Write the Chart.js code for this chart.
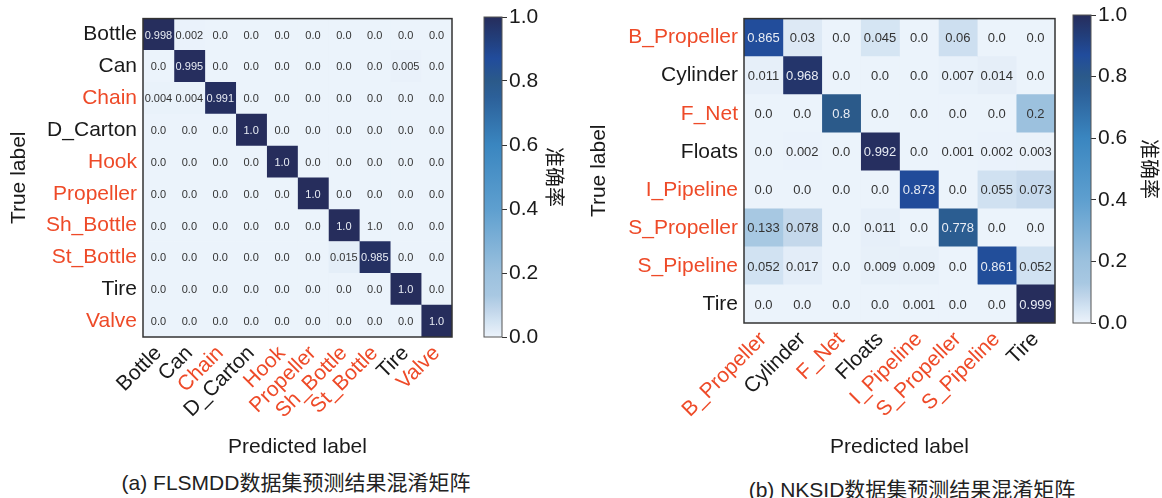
<!DOCTYPE html>
<html>
<head>
<meta charset="utf-8">
<script src="https://cdn.jsdelivr.net/npm/chart.js@4"></script>
<style>
    html, body { margin: 0; padding: 0; background: #fff; }
    body { width: 1162px; height: 498px; position: relative; overflow: hidden; }
    .box { position: absolute; }
    .caption {
        position: absolute; width: 500px; text-align: center;
        font: 21px 'Liberation Sans', 'Noto Sans CJK SC', sans-serif; color: #222;
        line-height: 24px;
    }
</style>
</head>
<body>
<div class="box" style="left:0;top:0;width:475px;height:464px"><canvas id="cmA"></canvas></div>
<div class="box" style="left:470px;top:0;width:101px;height:360px"><canvas id="cbA"></canvas></div>
<div class="box" style="left:580px;top:0;width:498px;height:464px"><canvas id="cmB"></canvas></div>
<div class="box" style="left:1060px;top:0;width:102px;height:360px"><canvas id="cbB"></canvas></div>
<div class="caption" style="left:46px;top:471px">(a) FLSMDD数据集预测结果混淆矩阵</div>
<div class="caption" style="left:662px;top:478px">(b) NKSID数据集预测结果混淆矩阵</div>

<script>
// ---- データ ----
const FLSMDD_LABELS = ['Bottle', 'Can', 'Chain', 'D_Carton', 'Hook', 'Propeller', 'Sh_Bottle', 'St_Bottle', 'Tire', 'Valve'];
const FLSMDD_RED = ['Chain', 'Hook', 'Propeller', 'Sh_Bottle', 'St_Bottle', 'Valve'];
const FLSMDD_MATRIX = [
    [0.998, 0.002, 0, 0, 0, 0, 0, 0, 0, 0],
    [0, 0.995, 0, 0, 0, 0, 0, 0, 0.005, 0],
    [0.004, 0.004, 0.991, 0, 0, 0, 0, 0, 0, 0],
    [0, 0, 0, 1.0, 0, 0, 0, 0, 0, 0],
    [0, 0, 0, 0, 1.0, 0, 0, 0, 0, 0],
    [0, 0, 0, 0, 0, 1.0, 0, 0, 0, 0],
    [0, 0, 0, 0, 0, 0, 1.0, 0, 0, 0],
    [0, 0, 0, 0, 0, 0, 0.015, 0.985, 0, 0],
    [0, 0, 0, 0, 0, 0, 0, 0, 1.0, 0],
    [0, 0, 0, 0, 0, 0, 0, 0, 0, 1.0]
];
// 元図のままのセル表示 (row,col -> text)
const FLSMDD_TEXT_FIX = { '6,7': '1.0' };

const NKSID_LABELS = ['B_Propeller', 'Cylinder', 'F_Net', 'Floats', 'I_Pipeline', 'S_Propeller', 'S_Pipeline', 'Tire'];
const NKSID_RED = ['B_Propeller', 'F_Net', 'I_Pipeline', 'S_Propeller', 'S_Pipeline'];
const NKSID_MATRIX = [
    [0.865, 0.03, 0, 0.045, 0, 0.06, 0, 0],
    [0.011, 0.968, 0, 0, 0, 0.007, 0.014, 0],
    [0, 0, 0.8, 0, 0, 0, 0, 0.2],
    [0, 0.002, 0, 0.992, 0, 0.001, 0.002, 0.003],
    [0, 0, 0, 0, 0.873, 0, 0.055, 0.073],
    [0.133, 0.078, 0, 0.011, 0, 0.778, 0, 0],
    [0.052, 0.017, 0, 0.009, 0.009, 0, 0.861, 0.052],
    [0, 0, 0, 0, 0.001, 0, 0, 0.999]
];

const COLORBAR_TICKS = [0, 0.2, 0.4, 0.6, 0.8, 1.0];

// ---- スタイル ----
const FONT = "'Liberation Sans', Arial, sans-serif";
const CJK = "'Noto Sans CJK SC', sans-serif";
const RED = '#ee4a28';
const BLACK = '#1a1a1a';
const CMAP = [
    [0.0, '#ebf3fb'], [0.02, '#e2ecf7'], [0.05, '#d2e3f2'], [0.08, '#c3d7eb'],
    [0.13, '#a8c8e2'], [0.2, '#9cc1de'], [0.4, '#5e9fcf'], [0.6, '#3a86c0'],
    [0.75, '#2c6099'], [0.8, '#2b5a8a'], [0.87, '#214c9c'], [0.93, '#223f7c'], [1.0, '#262d5c']
];

function hexToRgb(h) {
    const n = parseInt(h.slice(1), 16);
    return [(n >> 16) & 255, (n >> 8) & 255, n & 255];
}

function cmapColor(v) {
    for (let i = 1; i < CMAP.length; i++) {
        if (v <= CMAP[i][0]) {
            const [v0, c0] = CMAP[i - 1];
            const [v1, c1] = CMAP[i];
            const t = (v - v0) / (v1 - v0);
            const a = hexToRgb(c0), b = hexToRgb(c1);
            const m = a.map((x, k) => Math.round(x + (b[k] - x) * t));
            return `rgb(${m[0]},${m[1]},${m[2]})`;
        }
    }
    return CMAP[CMAP.length - 1][1];
}

function fmt(v) {
    if (v === 0) return '0.0';
    if (v === 1) return '1.0';
    return String(v);
}

const framePlugin = {
    id: 'frame',
    afterDatasetsDraw(chart, args, opts) {
        const { ctx, chartArea: a } = chart;
        ctx.save();
        ctx.strokeStyle = opts.color || '#333';
        ctx.lineWidth = opts.width || 1.5;
        ctx.strokeRect(a.left, a.top, a.right - a.left, a.bottom - a.top);
        ctx.restore();
    }
};

function renderMatrix(id, labels, redLabels, matrix, textFix, opt) {
    const n = labels.length;
    const datasets = labels.map((col, c) => ({
        label: col,
        data: labels.map(() => 1),
        backgroundColor: matrix.map(row => cmapColor(row[c])),
        borderWidth: 0,
        barPercentage: 1,
        categoryPercentage: 1
    }));

    const cellText = {
        id: 'cellText',
        afterDatasetsDraw(chart) {
            const { ctx } = chart;
            ctx.save();
            ctx.font = `${opt.cellFont}px ${FONT}`;
            ctx.textAlign = 'center';
            ctx.textBaseline = 'middle';
            chart.data.datasets.forEach((ds, c) => {
                chart.getDatasetMeta(c).data.forEach((bar, r) => {
                    const v = matrix[r][c];
                    const txt = textFix[r + ',' + c] || fmt(v);
                    ctx.fillStyle = v > 0.5 ? '#e8ecf4' : '#333';
                    ctx.fillText(txt, (bar.x + bar.base) / 2, bar.y + 1);
                });
            });
            ctx.restore();
        }
    };

    const tickColor = lbl => redLabels.includes(lbl) ? RED : BLACK;

    return new Chart(document.getElementById(id), {
        type: 'bar',
        data: { labels: labels, datasets: datasets },
        options: {
            indexAxis: 'y',
            responsive: true,
            maintainAspectRatio: false,
            animation: false,
            events: [],
            layout: { padding: opt.padding },
            plugins: {
                legend: { display: false },
                tooltip: { enabled: false },
                frame: { color: '#333', width: 1.5 }
            },
            scales: {
                x: {
                    type: 'linear',
                    stacked: true,
                    min: 0,
                    max: n,
                    grid: { display: false, drawTicks: false },
                    border: { display: false },
                    afterBuildTicks: axis => {
                        axis.ticks = labels.map((_, i) => ({ value: i + 0.5 }));
                    },
                    afterFit: s => { s.height = opt.xHeight; },
                    ticks: {
                        autoSkip: false,
                        minRotation: 45,
                        maxRotation: 45,
                        padding: 4,
                        font: { family: FONT, size: 21 },
                        color: c => tickColor(labels[c.index]),
                        callback: (v, i) => labels[i]
                    },
                    title: {
                        display: true,
                        text: 'Predicted label',
                        color: BLACK,
                        font: { family: FONT, size: 21 },
                        padding: { top: 0, bottom: 4 }
                    }
                },
                y: {
                    type: 'category',
                    stacked: true,
                    grid: { display: false, drawTicks: false },
                    border: { display: false },
                    afterFit: s => { s.width = opt.yWidth; },
                    ticks: {
                        padding: 6,
                        font: { family: FONT, size: 21 },
                        color: c => tickColor(labels[c.index])
                    },
                    title: {
                        display: true,
                        text: 'True label',
                        color: BLACK,
                        font: { family: FONT, size: 21 },
                        padding: { top: 7, bottom: 0 }
                    }
                }
            }
        },
        plugins: [cellText, framePlugin]
    });
}

function renderColorbar(id, opt) {
    return new Chart(document.getElementById(id), {
        type: 'bar',
        data: {
            labels: [''],
            datasets: [{
                data: [[COLORBAR_TICKS[0], COLORBAR_TICKS[COLORBAR_TICKS.length - 1]]],
                backgroundColor: ctx => {
                    const a = ctx.chart.chartArea;
                    if (!a) return '#ccc';
                    const g = ctx.chart.ctx.createLinearGradient(0, a.bottom, 0, a.top);
                    CMAP.forEach(([v, c]) => g.addColorStop(v, c));
                    return g;
                },
                borderWidth: 0,
                barPercentage: 1,
                categoryPercentage: 1
            }]
        },
        options: {
            responsive: true,
            maintainAspectRatio: false,
            animation: false,
            events: [],
            layout: { padding: opt.padding },
            plugins: {
                legend: { display: false },
                tooltip: { enabled: false },
                frame: { color: '#555', width: 1 }
            },
            scales: {
                x: { display: false },
                y: {
                    position: 'right',
                    min: 0,
                    max: 1,
                    afterBuildTicks: axis => {
                        axis.ticks = COLORBAR_TICKS.map(v => ({ value: v }));
                    },
                    afterFit: s => { s.width = opt.yWidth; },
                    grid: { drawOnChartArea: false, drawTicks: true, tickLength: 5, color: '#333' },
                    border: { display: false },
                    ticks: {
                        padding: 2,
                        color: BLACK,
                        font: { family: FONT, size: 21 },
                        callback: v => v.toFixed(1)
                    },
                    title: {
                        display: true,
                        text: '准确率',
                        color: BLACK,
                        font: { family: CJK, size: 20 },
                        padding: { top: opt.titlePad, bottom: 0 }
                    }
                }
            }
        },
        plugins: [framePlugin]
    });
}

renderMatrix('cmA', FLSMDD_LABELS, FLSMDD_RED, FLSMDD_MATRIX, FLSMDD_TEXT_FIX, {
    padding: { top: 17, right: 23, bottom: 0, left: 0 },
    yWidth: 143,
    xHeight: 127,
    cellFont: 11
});
renderColorbar('cbA', { padding: { top: 17, right: 0, bottom: 23, left: 14 }, yWidth: 69, titlePad: 4 });

renderMatrix('cmB', NKSID_LABELS, NKSID_RED, NKSID_MATRIX, {}, {
    padding: { top: 15, right: 23, bottom: 0, left: 0 },
    yWidth: 164,
    xHeight: 141,
    cellFont: 13
});
renderColorbar('cbB', { padding: { top: 15, right: 0, bottom: 37, left: 13 }, yWidth: 71, titlePad: 0 });
</script>
</body>
</html>
